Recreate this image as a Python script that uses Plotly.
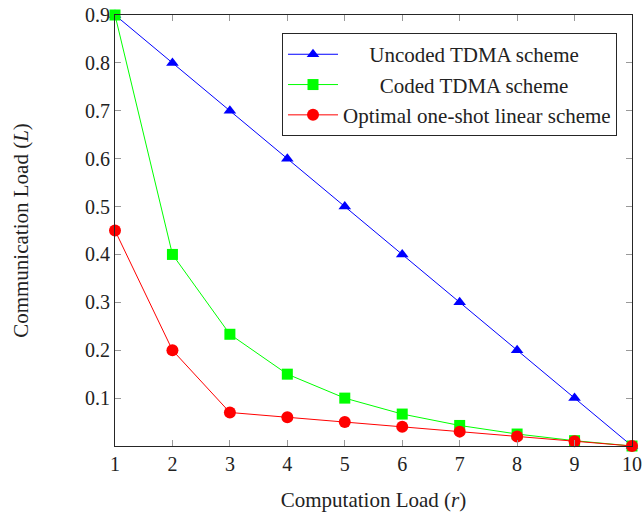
import plotly.graph_objects as go

r_vals = [1, 2, 3, 4, 5, 6, 7, 8, 9, 10]
uncoded = [0.9, 0.8, 0.7, 0.6, 0.5, 0.4, 0.3, 0.2, 0.1, 0.0]
coded = [0.9, 0.4, 0.2333, 0.15, 0.1, 0.0667, 0.0429, 0.025, 0.0111, 0.0]
optimal = [0.45, 0.2, 0.07, 0.06, 0.05, 0.04, 0.03, 0.02, 0.01, 0.0]
names = ["Uncoded TDMA scheme", "Coded TDMA scheme", "Optimal one-shot linear scheme"]
y_ticks = [0.1, 0.2, 0.3, 0.4, 0.5, 0.6, 0.7, 0.8, 0.9]

# leading non-breaking spaces to imitate the centred legend text
pad = ["\u00a0" * 5, "\u00a0" * 7, ""]

font = "Liberation Serif"
fs = 20
fig = go.Figure()
fig.add_trace(go.Scatter(x=r_vals, y=uncoded, name=pad[0] + names[0], mode="lines+markers",
                         line=dict(color="#0000ff", width=1),
                         marker=dict(symbol="triangle-up", size=11, color="#0000ff"),
                         cliponaxis=False))
fig.add_trace(go.Scatter(x=r_vals, y=coded, name=pad[1] + names[1], mode="lines+markers",
                         line=dict(color="#00ff00", width=1),
                         marker=dict(symbol="square", size=11, color="#00ff00"),
                         cliponaxis=False))
fig.add_trace(go.Scatter(x=r_vals, y=optimal, name=pad[2] + names[2], mode="lines+markers",
                         line=dict(color="#ff0000", width=1),
                         marker=dict(symbol="circle", size=12, color="#ff0000"),
                         cliponaxis=False))

axis_common = dict(showgrid=False, zeroline=False, showline=True, linecolor="#262626",
                   linewidth=1, mirror="ticks", ticks="inside", ticklen=6,
                   tickcolor="#999999", automargin=False,
                   tickfont=dict(family=font, size=fs, color="#222222"))
fig.update_xaxes(range=[1, 10], tickvals=r_vals,
                 title=dict(text="Computation Load (<i>r</i>)", font=dict(family=font, size=21, color="#222222"), standoff=20),
                 **axis_common)
fig.update_yaxes(range=[0, 0.9], tickvals=y_ticks, tickformat=".1f",
                 title=dict(text="Communication Load (<i>L</i>)", font=dict(family=font, size=21, color="#222222"), standoff=50),
                 **axis_common)
fig.update_layout(
    width=644, height=512,
    margin=dict(l=115, r=12, t=15, b=66, autoexpand=False),
    plot_bgcolor="white", paper_bgcolor="white",
    font=dict(family=font, size=fs, color="#222222"),
    legend=dict(x=0.971, y=0.958, xanchor="right", yanchor="top",
                bordercolor="#262626", borderwidth=1, bgcolor="white",
                font=dict(family=font, size=21, color="#222222"),
                itemwidth=50, tracegroupgap=0),
    showlegend=True,
)
fig.write_html("out.html", config={"displayModeBar": False},
               post_script="document.body.style.margin='0';document.body.style.overflow='hidden';")
